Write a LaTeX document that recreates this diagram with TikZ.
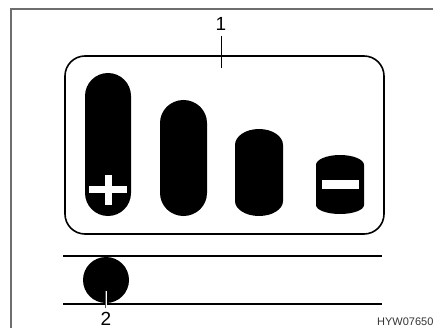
\documentclass[tikz,border=0pt]{standalone}
\usepackage{fontspec}
\setmainfont{Liberation Sans}
\usepackage{tikz}
\usetikzlibrary{positioning, calc}
\definecolor{framegray}{HTML}{6E6E6E}
\definecolor{leadgray}{HTML}{555555}

% one level bar: left x, width, top y, bottom y, radius of the rounded ends
\newcommand{\levelbar}[6]{%
  \fill[barfill] (#1,#4+#6) -- (#1,#3-#5)
    arc[start angle=180, end angle=0, x radius=#2/2, y radius=#5]
    -- (#1+#2,#4+#6)
    arc[start angle=0, end angle=-180, x radius=#2/2, y radius=#6] -- cycle;}

\tikzset{
  barfill/.style={fill=black},
  panel/.style={draw, line width=1.6pt, rounded corners=20pt},
  rule/.style={draw, line width=1.3pt},
  leader/.style={draw, line width=0.9pt},
  callout/.style={font=\fontsize{19}{19}\selectfont, inner sep=0pt},
}

\begin{document}
\begin{tikzpicture}[x=1pt, y=1pt]
  \useasboundingbox (0,0) rectangle (433,327);
  % frame of the page
  \draw[framegray, line width=1.4pt] (11,-5) -- (11,318) -- (440,318);

  % display panel
  \draw[panel] (65,93) rectangle (384,271);
  \coordinate (paneltop) at (221,259);
  \node[callout, anchor=south] (num1) at (221,296) {1};
  \draw[leader] (221,291) -- (paneltop);

  \levelbar{85}{46}{254}{111}{23}{23}
  \levelbar{160}{47}{227}{111}{23}{23}
  \levelbar{235}{48}{198}{111}{16}{15}
  \levelbar{316}{48}{172}{113}{10}{9}

  % plus and minus signs
  \fill[white] (89,134) rectangle (127,141);
  \fill[white] (104.5,122) rectangle (111.5,152);
  \fill[white] (322,138) rectangle (359,147);

  % indicator lamp
  \draw[rule] (63,71) -- (382,71);
  \draw[rule] (63,23) -- (382,23);
  \node[circle, fill=black, minimum size=46pt, inner sep=0pt] (lamp) at (106,47) {};
  \coordinate (lampin) at (106,36);
  \node[callout, anchor=north] (num2) at (106,15) {2};
  \draw[leadgray, line width=2.4pt] (lampin) -- (106,19);
  \draw[white, line width=0.9pt] (lampin) -- (106,19);

  \node[anchor=base west, inner sep=0pt, text=black!80, font=\fontsize{11}{11}\selectfont] (code) at (377,2) {HYW07650};
\end{tikzpicture}
\end{document}
